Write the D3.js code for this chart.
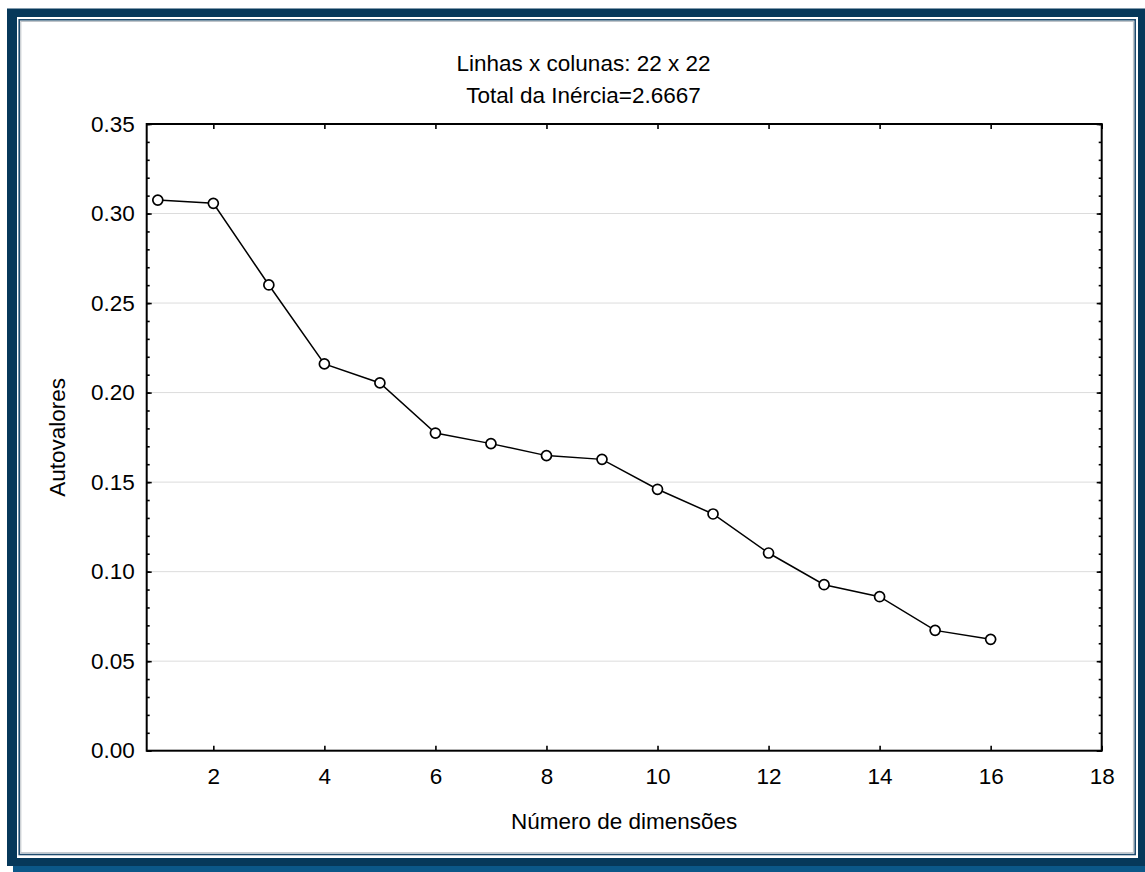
<!DOCTYPE html>
<html>
<head>
<meta charset="utf-8">
<script src="https://cdn.jsdelivr.net/npm/d3@7"></script>
<style>
  body { margin: 0; background: #ffffff; }
  svg text { font-family: "Liberation Sans", Arial, sans-serif; fill: #000; }
</style>
</head>
<body>
<svg id="chart" width="1145" height="872"></svg>
<script>
"use strict";

// data
let dims = [1, 2, 3, 4, 5, 6, 7, 8, 9, 10, 11, 12, 13, 14, 15, 16]
let autovalores = [0.3075, 0.3057, 0.2601, 0.2160, 0.2054, 0.1774, 0.1715, 0.1648,
                   0.1627, 0.1460, 0.1322, 0.1104, 0.0927, 0.0860, 0.0672, 0.0622]
let xTicks = [2, 4, 6, 8, 10, 12, 14, 16, 18]
let yTicks = [0, 0.05, 0.10, 0.15, 0.20, 0.25, 0.30, 0.35]
let yMinorTicks = d3.range(0, 36).map(d => d / 100)
let titleLines = ["Linhas x colunas: 22 x 22", "Total da Inércia=2.6667"]
let xLabel = "Número de dimensões"
let yLabel = "Autovalores"

let W = 1145, H = 872
let fontSize = "22.5px"
let plot = {left: 146.7, top: 124, right: 1101.7, bottom: 750.7}

let svg = d3.select("#chart")

// frame: shadow, navy band, white panel, thin inner border
svg.append("rect")
    .attr("x", 13).attr("y", 14)
    .attr("width", W).attr("height", H)
    .attr("fill", "#0b5788")
svg.append("rect")
    .attr("x", 7).attr("y", 8.5)
    .attr("width", 1141).attr("height", 857.5)
    .attr("fill", "#06385a")
svg.append("rect")
    .attr("x", 17).attr("y", 17)
    .attr("width", 1121).attr("height", 841)
    .attr("fill", "#ffffff")
svg.append("rect")
    .attr("x", 19.2).attr("y", 19.8)
    .attr("width", 1116).attr("height", 834.7)
    .attr("fill", "none")
    .attr("stroke", "#1f4b6e")
    .attr("stroke-width", 1.6)
svg.append("rect")
    .attr("x", 20.8).attr("y", 21.4)
    .attr("width", 1112.6).attr("height", 831.3)
    .attr("fill", "none")
    .attr("stroke", "#b8bec4")
    .attr("stroke-width", 1)

let x = d3.scaleLinear().domain([0.8, 18]).range([plot.left, plot.right])
let y = d3.scaleLinear().domain([0, 0.35]).range([plot.bottom, plot.top])

// horizontal grid
svg.append("g")
    .selectAll("line")
    .data(yTicks.filter(d => d > 0 && d < 0.35))
    .join("line")
    .attr("x1", plot.left).attr("x2", plot.right)
    .attr("y1", d => y(d)).attr("y2", d => y(d))
    .attr("stroke", "#dcdcdc")
    .attr("stroke-width", 1)

function styleAxis(g){
  g.select(".domain").remove()
  g.selectAll(".tick line").attr("stroke", "#000").attr("stroke-width", 1.6)
  g.selectAll(".tick text").attr("font-size", fontSize).attr("fill", "#000")
      .attr("font-family", "Liberation Sans, Arial, sans-serif")
}

// left axis
svg.append("g")
    .attr("transform", "translate(" + plot.left + ",0)")
    .call(d3.axisLeft(y).tickValues(yMinorTicks).tickSize(-3).tickFormat(""))
    .call(styleAxis)
svg.append("g")
    .attr("transform", "translate(" + plot.left + ",0)")
    .call(d3.axisLeft(y).tickValues(yTicks).tickSize(-5).tickPadding(12).tickFormat(d3.format(".2f")))
    .call(styleAxis)

// right axis
svg.append("g")
    .attr("transform", "translate(" + plot.right + ",0)")
    .call(d3.axisRight(y).tickValues(yMinorTicks).tickSize(-3).tickFormat(""))
    .call(styleAxis)
svg.append("g")
    .attr("transform", "translate(" + plot.right + ",0)")
    .call(d3.axisRight(y).tickValues(yTicks).tickSize(-5).tickFormat(""))
    .call(styleAxis)

// bottom and top axes
svg.append("g")
    .attr("transform", "translate(0," + plot.bottom + ")")
    .call(d3.axisBottom(x).tickValues(xTicks).tickSize(-5).tickPadding(17.5))
    .call(styleAxis)
svg.append("g")
    .attr("transform", "translate(0," + plot.top + ")")
    .call(d3.axisTop(x).tickValues(xTicks).tickSize(-5).tickFormat(""))
    .call(styleAxis)

// plot frame
svg.append("rect")
    .attr("x", plot.left).attr("y", plot.top)
    .attr("width", plot.right - plot.left)
    .attr("height", plot.bottom - plot.top)
    .attr("fill", "none")
    .attr("stroke", "#000")
    .attr("stroke-width", 2)

// series
let line = d3.line()
    .x((d, i) => x(dims[i]))
    .y(d => y(d))
svg.append("path")
    .datum(autovalores)
    .attr("d", line)
    .attr("fill", "none")
    .attr("stroke", "#000")
    .attr("stroke-width", 1.5)
svg.append("g")
    .selectAll("circle")
    .data(autovalores)
    .join("circle")
    .attr("cx", (d, i) => x(dims[i]))
    .attr("cy", d => y(d))
    .attr("r", 5)
    .attr("fill", "#fff")
    .attr("stroke", "#000")
    .attr("stroke-width", 1.7)

// titles
svg.append("g")
    .selectAll("text")
    .data(titleLines)
    .join("text")
    .attr("x", 583.5)
    .attr("y", (d, i) => 71 + i * 32.3)
    .attr("text-anchor", "middle")
    .attr("font-size", fontSize)
    .text(d => d)

svg.append("text")
    .attr("x", (plot.left + plot.right) / 2)
    .attr("y", 829)
    .attr("text-anchor", "middle")
    .attr("font-size", fontSize)
    .text(xLabel)

svg.append("text")
    .attr("transform", "translate(65," + ((plot.top + plot.bottom) / 2) + ") rotate(-90)")
    .attr("text-anchor", "middle")
    .attr("font-size", fontSize)
    .text(yLabel)
</script>
</body>
</html>
